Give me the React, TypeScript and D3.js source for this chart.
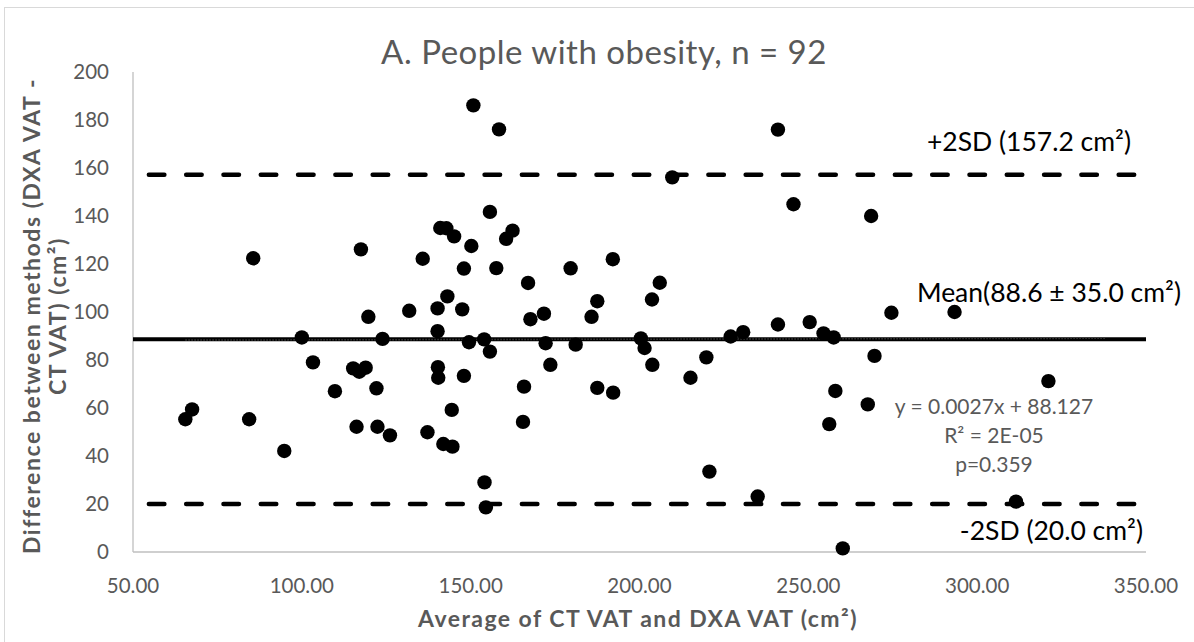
import React from 'react';
import * as d3 from 'd3';

// Average of CT VAT and DXA VAT (cm²)
const avgVAT = [
  85.6, 117.5, 119.7, 150.8, 158.4, 209.7, 241.0, 155.7, 141.0, 142.8,
  145.1, 150.2, 162.4, 160.5, 135.8, 148.0, 157.6, 179.6, 192.1, 167.0,
  206.0, 203.7, 187.5, 143.1, 131.8, 140.2, 147.5, 167.7, 171.7, 185.8,
  140.2, 241.0, 245.6, 268.6, 274.6, 293.3, 250.4, 65.5, 67.5, 84.4,
  94.8, 100.0, 103.3, 109.8, 115.2, 117.0, 118.9, 116.2, 122.1, 122.4,
  126.1, 123.9, 140.3, 140.4, 148.0, 149.5, 144.4, 137.2, 141.9, 144.6,
  154.0, 155.7, 154.1, 154.5, 172.2, 173.6, 165.8, 165.5, 181.1, 187.5,
  192.2, 200.4, 201.5, 203.8, 215.1, 219.8, 220.7, 235.0, 227.0, 230.7,
  254.5, 257.5, 269.6, 258.0, 267.6, 256.2, 321.1, 311.5, 260.2,
];

// Difference between methods (DXA VAT - CT VAT) (cm²)
const diffVAT = [
  122.4, 126.1, 98.0, 186.1, 176.1, 156.1, 176.0, 141.7, 135.0, 134.9,
  131.5, 127.5, 133.9, 130.5, 122.2, 118.1, 118.3, 118.2, 122.0, 112.1,
  112.2, 105.2, 104.5, 106.5, 100.5, 101.5, 101.1, 97.0, 99.3, 98.0,
  92.0, 94.8, 144.9, 140.0, 99.7, 100.0, 95.8, 55.3, 59.4, 55.3,
  42.1, 89.4, 79.0, 67.0, 76.5, 75.1, 76.8, 52.2, 68.2, 52.2,
  48.6, 88.8, 77.0, 72.6, 73.4, 87.4, 59.2, 49.9, 45.0, 43.9,
  88.6, 83.5, 29.0, 18.6, 87.0, 78.0, 68.9, 54.2, 86.4, 68.4,
  66.4, 89.0, 85.0, 78.0, 72.6, 81.1, 33.5, 23.1, 89.8, 91.6,
  91.1, 89.4, 81.7, 67.1, 61.5, 53.3, 71.2, 21.0, 1.5,
];

const xTicks = [50, 100, 150, 200, 250, 300, 350];
const yTicks = [0, 20, 40, 60, 80, 100, 120, 140, 160, 180, 200];

const meanDiff = 88.6;
const upperLoA = 157.2;
const lowerLoA = 20.0;
const loaXRange = [54.7, 347.6];
const trendSlope = 0.0027;
const trendIntercept = 88.127;
const trendXRange = [65.5, 338];

const GRAY = '#595959';
const FONT = 'Lato, "Open Sans", sans-serif';

export default function App() {
  const W = 1194;
  const H = 642;
  const x = d3.scaleLinear().domain([50, 350]).range([133, 1146]);
  const y = d3.scaleLinear().domain([0, 200]).range([552, 72]);
  const line = d3
    .line<[number, number]>()
    .x((d) => x(d[0]))
    .y((d) => y(d[1]));

  const hLine = (v: number, xr: number[]) =>
    line([
      [xr[0], v],
      [xr[1], v],
    ]) as string;

  const trend = line(
    trendXRange.map((t) => [t, trendSlope * t + trendIntercept] as [number, number])
  ) as string;

  const [x0, x1] = x.range();
  const [y0, y1] = y.range();

  return (
    <svg
      width={W}
      height={H}
      style={{ position: 'absolute', left: 0, top: 0, background: '#fff' }}
      fontFamily={FONT}
    >
      <rect x={4.5} y={7.5} width={W + 10} height={H + 10} fill="#fff" stroke="#d9d9d9" strokeWidth={1} />

      {/* title */}
      <text x={604} y={64} textAnchor="middle" fontSize={33} letterSpacing={0.5} fill={GRAY}>
        A. People with obesity, n = 92
      </text>

      {/* axes */}
      <line x1={x0} x2={x0} y1={y1} y2={y0} stroke="#bfbfbf" strokeWidth={1.3} />
      <line x1={x0} x2={x1} y1={y0} y2={y0} stroke="#bfbfbf" strokeWidth={1.3} />

      {yTicks.map((t) => (
        <text key={'y' + t} x={109} y={y(t)} dy="0.36em" textAnchor="end" fontSize={20.5} fill={GRAY}>
          {t}
        </text>
      ))}
      {xTicks.map((t) => (
        <text key={'x' + t} x={x(t)} y={593} textAnchor="middle" fontSize={20.5} fill={GRAY}>
          {d3.format('.2f')(t)}
        </text>
      ))}

      {/* axis titles */}
      <text x={638} y={627} textAnchor="middle" fontSize={23} letterSpacing={1.45} fontWeight="bold" fill={GRAY}>
        Average of CT VAT and DXA VAT (cm²)
      </text>
      <g transform="translate(0,316) rotate(-90)">
        <text x={0} y={40} textAnchor="middle" fontSize={23} letterSpacing={1.55} fontWeight="bold" fill={GRAY}>
          Difference between methods (DXA VAT -
        </text>
        <text x={0} y={66} textAnchor="middle" fontSize={23} letterSpacing={1.55} fontWeight="bold" fill={GRAY}>
          CT VAT) (cm²)
        </text>
      </g>

      {/* limits of agreement */}
      <path d={hLine(upperLoA, loaXRange)} stroke="#000" strokeWidth={4.5} strokeDasharray="15.5 21.8" strokeLinecap="round" fill="none" />
      <path d={hLine(lowerLoA, loaXRange)} stroke="#000" strokeWidth={4.5} strokeDasharray="15.5 21.8" strokeLinecap="round" fill="none" />
      <path d={hLine(meanDiff, [50, 350])} stroke="#000" strokeWidth={4} fill="none" />
      <path d={trend} stroke="#3a3a3a" strokeWidth={1.5} strokeDasharray="1.5 1.5" fill="none" />

      {/* points */}
      {avgVAT.map((v, i) => (
        <circle key={i} cx={x(v)} cy={y(diffVAT[i])} r={7.2} fill="#000" />
      ))}

      {/* annotations */}
      <text x={1131} y={150.5} textAnchor="end" fontSize={26.5} fill="#000">
        +2SD (157.2 cm²)
      </text>
      <text x={1181} y={301.5} textAnchor="end" fontSize={26.5} fill="#000">
        Mean(88.6 ± 35.0 cm²)
      </text>
      <text x={1143} y={540} textAnchor="end" fontSize={26.5} fill="#000">
        -2SD (20.0 cm²)
      </text>
      <g fontSize={21} fill={GRAY} textAnchor="middle">
        <text x={994} y={414}>y = 0.0027x + 88.127</text>
        <text x={994} y={443}>R² = 2E-05</text>
        <text x={994} y={472}>p=0.359</text>
      </g>
    </svg>
  );
}
